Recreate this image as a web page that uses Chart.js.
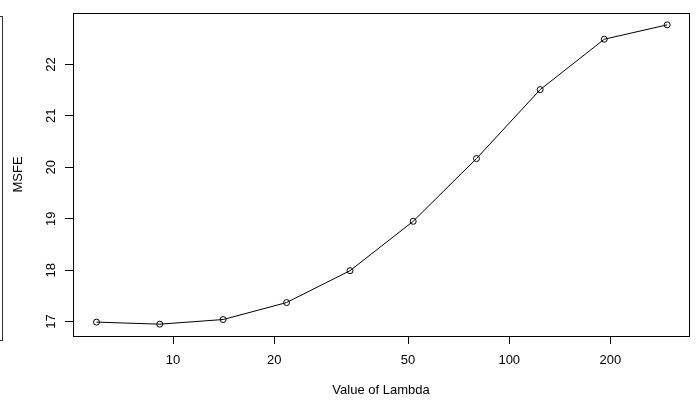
<!DOCTYPE html>
<html>
<head>
<meta charset="utf-8">
<title>MSFE vs Lambda</title>
<script src="https://cdn.jsdelivr.net/npm/chart.js@4.4.1/dist/chart.umd.min.js"></script>
<style>
  body { margin: 0; background: #fff; }
  #wrap { position: relative; width: 696px; height: 401px; overflow: hidden; }
  /* edge of the neighbouring plot cut off at the left */
  #edge { position: absolute; left: -11px; top: 16px; width: 12px; height: 323px; border: 1px solid #333; }
</style>
</head>
<body>
<div id="wrap">
  <div id="edge"></div>
  <canvas id="msfeChart"></canvas>
</div>
<script>
// values
const lambdas = [5.92, 9.13, 14.09, 21.76, 33.6, 51.8, 79.9, 123.6, 191.7, 295];
const msfe = [16.99, 16.95, 17.04, 17.37, 17.99, 18.95, 20.17, 21.51, 22.49, 22.77];
const xTicks = [10, 20, 50, 100, 200];
const yTicks = [17, 18, 19, 20, 21, 22];

Chart.defaults.font.family = '"Liberation Sans", Arial, sans-serif';
Chart.defaults.font.size = 13;
Chart.defaults.color = '#000';

// R style: box round the plot and y tick labels turned 90 degrees
const rBox = {
  id: 'rBox',
  afterDraw(chart) {
    const ctx = chart.ctx;
    const a = chart.chartArea;
    ctx.save();
    ctx.strokeStyle = '#000';
    ctx.lineWidth = 1;
    ctx.strokeRect(Math.round(a.left) + 0.5, Math.round(a.top) + 0.5,
      Math.round(a.right - a.left), Math.round(a.bottom - a.top));
    const y = chart.scales.y;
    ctx.fillStyle = '#000';
    ctx.font = '13px "Liberation Sans", Arial, sans-serif';
    ctx.textAlign = 'center';
    ctx.textBaseline = 'middle';
    yTicks.forEach(v => {
      ctx.save();
      ctx.translate(51, y.getPixelForValue(v));
      ctx.rotate(-Math.PI / 2);
      ctx.fillText(String(v), 0, 0);
      ctx.restore();
    });
    ctx.restore();
  }
};

const points = lambdas.map((l, i) => ({ x: l, y: msfe[i] }));

new Chart(document.getElementById('msfeChart').getContext('2d'), {
  type: 'scatter',
  data: {
    datasets: [{
      data: points,
      showLine: true,
      borderColor: '#000',
      borderWidth: 1,
      tension: 0,
      pointRadius: 3,
      pointHoverRadius: 3,
      pointBorderColor: '#000',
      pointBorderWidth: 1,
      pointBackgroundColor: 'rgba(0,0,0,0)'
    }]
  },
  options: {
    responsive: true,
    maintainAspectRatio: false,
    animation: false,
    layout: { padding: { top: 13, right: 7, left: 0, bottom: 0 } },
    plugins: { legend: { display: false }, tooltip: { enabled: false } },
    scales: {
      x: {
        type: 'logarithmic',
        min: 5.04,
        max: 342.5,
        afterBuildTicks: s => { s.ticks = xTicks.map(v => ({ value: v })); },
        afterFit: s => { s.height = 65; },
        grid: { drawOnChartArea: false, tickLength: 8, color: '#000' },
        border: { display: false },
        ticks: { autoSkip: false, maxRotation: 0, padding: 9, callback: v => String(v) },
        title: { display: true, text: 'Value of Lambda', padding: { top: 0, bottom: 3 } }
      },
      y: {
        min: 16.72,
        max: 23.0,
        afterBuildTicks: s => { s.ticks = yTicks.map(v => ({ value: v })); },
        afterFit: s => { s.width = 73; },
        grid: { drawOnChartArea: false, tickLength: 8, color: '#000' },
        border: { display: false },
        ticks: { display: false },
        title: { display: true, text: 'MSFE', padding: { top: 11, bottom: 0 } }
      }
    }
  },
  plugins: [rBox]
});
</script>
</body>
</html>
